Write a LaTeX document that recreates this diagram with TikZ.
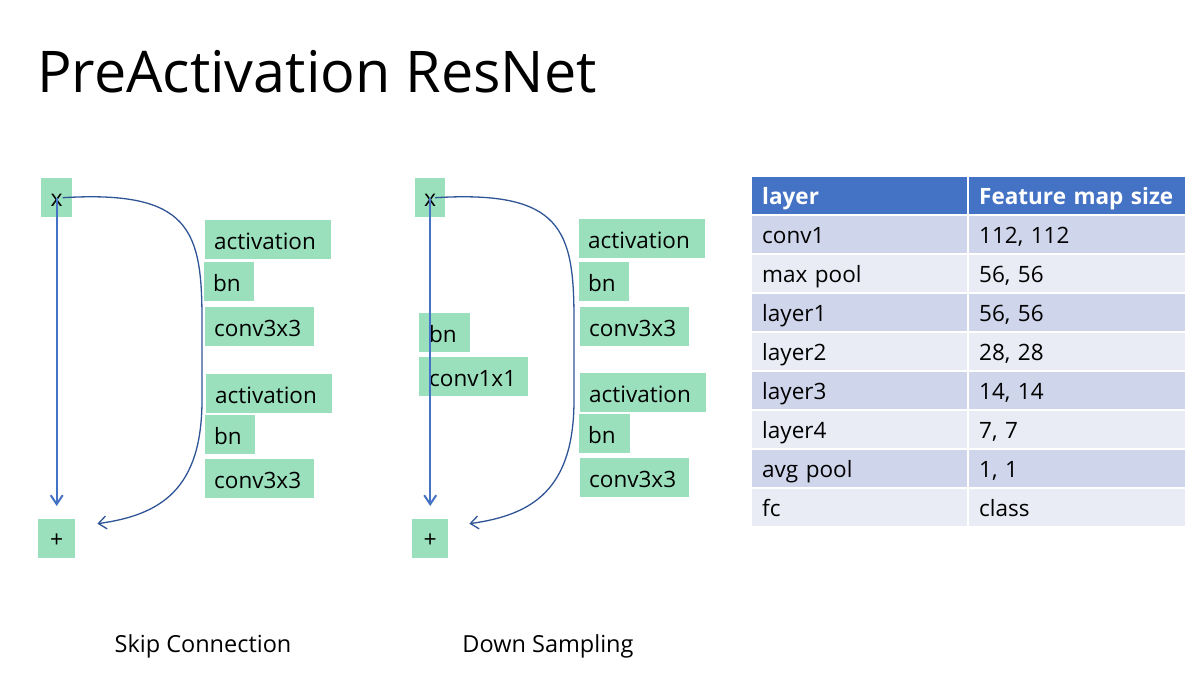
\documentclass[tikz,border=0pt]{standalone}
\usepackage{fontspec}
\setmainfont{Open Sans}
\usetikzlibrary{arrows.meta,calc}
\definecolor{boxgreen}{HTML}{9BE0BC}
\definecolor{linkblue}{HTML}{4472C4}
\definecolor{curveblue}{HTML}{2F5597}
\definecolor{headblue}{HTML}{4472C4}
\definecolor{rowA}{HTML}{CFD5EA}
\definecolor{rowB}{HTML}{E9EBF5}
\begin{document}
\begin{tikzpicture}[x=1pt,y=-1pt,
  blk/.style={fill=boxgreen, anchor=north west, minimum height=39pt,
    inner xsep=9pt, inner ysep=0pt, align=left, text height=19pt, text depth=0pt,
    font=\fontsize{22.5}{26}\selectfont},
  sq/.style={fill=boxgreen, anchor=north west, minimum height=39pt,
    inner sep=0pt, text height=17pt, text depth=0pt,
    font=\fontsize{23}{26}\selectfont},
  skipline/.style={draw=linkblue, line width=2pt,
    -{Straight Barb[length=9pt,width=12pt,line width=2pt]}},
  resline/.style={draw=curveblue, line width=1.3pt,
    -{Straight Barb[length=8pt,width=13pt,line width=1.3pt]}},
  cell/.style={anchor=north west, minimum height=37pt, inner xsep=10pt,
    inner ysep=0pt, align=left, text height=17pt, text depth=0pt,
    font=\fontsize{22.5}{26}\selectfont},
  caption/.style={font=\fontsize{23.5}{28}\selectfont}
]
\useasboundingbox (0,0) rectangle (1189,673);

% title
\node[anchor=base west, inner sep=0pt, font=\fontsize{57.5}{66}\selectfont]
  (title) at (37,92) {PreActivation ResNet};

% ---- skip connection block ----
\node[sq, minimum width=31pt] (x1) at (41,178) {x};
\node[sq, minimum width=37pt] (p1) at (38,519) {+};
\node[blk, text width=108pt] (a1) at (205,220) {activation};
\node[blk, text width=32pt]  (b1) at (204,262) {bn};
\node[blk, text width=91pt]  (c1) at (205,307) {conv3x3};
\node[blk, text width=108pt] (a2) at (206,374) {activation};
\node[blk, text width=32pt]  (b2) at (205,415) {bn};
\node[blk, text width=91pt]  (c2) at (205,459) {conv3x3};

\draw[skipline] (x1.center) -- ($(p1.north)+(0,-13)$);
\draw[resline] ($(x1.center)+(6,0)$) .. controls (190,190) and (202,230) .. (202,320)
  -- (202,400) .. controls (202,490) and (160,515) .. ($(p1.east)+(22,-15)$);

\node[caption] (cap1) at (203,646) {Skip Connection};

% ---- down sampling block ----
\node[sq, minimum width=30pt] (x2) at (415,178) {x};
\node[sq, minimum width=36pt] (p2) at (412,519) {+};
\node[blk, text width=108pt] (a3) at (579,219) {activation};
\node[blk, text width=32pt]  (b3) at (579,262) {bn};
\node[blk, text width=91pt]  (c3) at (580,307) {conv3x3};
\node[blk, text width=31pt, inner xsep=10pt] (b5) at (419,313) {bn};
\node[blk, text width=89pt, inner xsep=10pt] (c5) at (419,357) {conv1x1};
\node[blk, text width=108pt] (a4) at (580,373) {activation};
\node[blk, text width=33pt]  (b4) at (579,414) {bn};
\node[blk, text width=91pt]  (c4) at (580,458) {conv3x3};

\draw[skipline] (x2.center) -- ($(p2.north)+(0,-13)$);
\draw[resline] ($(x2.center)+(5,0)$) .. controls (562,190) and (574,230) .. (574,320)
  -- (574,400) .. controls (574,490) and (532,515) .. ($(p2.east)+(21,-15)$);

\node[caption] (cap2) at (548,646) {Down Sampling};

% ---- feature map table ----
\node[cell, fill=headblue, text=white, text width=195pt, font=\fontsize{22.5}{26}\selectfont\bfseries]
  (h1) at (752,177) {layer};
\node[cell, fill=headblue, text=white, text width=196pt, font=\fontsize{22.5}{26}\selectfont\bfseries]
  (h2) at (969,177) {Feature map size};
\foreach \nm/\val/\col [count=\i] in {conv1/{112, 112}/rowA, max pool/{56, 56}/rowB,
    layer1/{56, 56}/rowA, layer2/{28, 28}/rowB, layer3/{14, 14}/rowA,
    layer4/{7, 7}/rowB, avg pool/{1, 1}/rowA, fc/class/rowB} {
  \node[cell, fill=\col, text width=195pt] (l\i) at (752,{216+39*(\i-1)}) {\nm};
  \node[cell, fill=\col, text width=196pt] (s\i) at (969,{216+39*(\i-1)}) {\val};
}
\end{tikzpicture}
\end{document}
